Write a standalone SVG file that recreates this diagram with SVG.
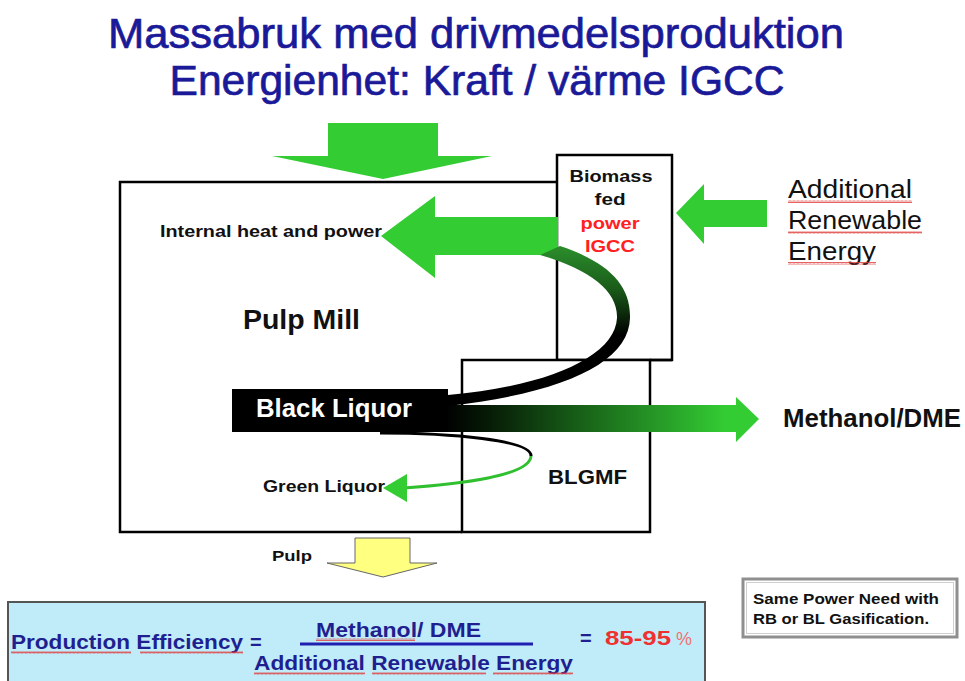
<svg xmlns="http://www.w3.org/2000/svg" width="965" height="681" viewBox="0 0 965 681">
<style>
text{font-family:"Liberation Sans",Arial,sans-serif}
.b{font-weight:bold}
.lbl{fill:#111}
.box{fill:#fff;stroke:#000;stroke-width:2.5}
.green{fill:#33cc33}
.navy{fill:#1f1f90}
.sq{fill:url(#squig)}
.ttl{fill:#1a1a99;stroke:#1a1a99;stroke-width:0.7}
</style>
<defs>
<pattern id="squig" width="4" height="3" patternUnits="userSpaceOnUse">
<path d="M0,2.5 L1,0.5 L2,2.5 L3,0.5 L4,2.5" fill="none" stroke="#e03c3c" stroke-width="0.8"/>
</pattern>
<linearGradient id="gArrow" gradientUnits="userSpaceOnUse" x1="445" y1="0" x2="725" y2="0">
<stop offset="0" stop-color="#000"/>
<stop offset="0.15" stop-color="#061a06"/>
<stop offset="1" stop-color="#33cc33"/>
</linearGradient>
<linearGradient id="gRibbon" gradientUnits="userSpaceOnUse" x1="0" y1="250" x2="0" y2="335">
<stop offset="0" stop-color="#2a8a2a"/>
<stop offset="0.45" stop-color="#1a5c1a"/>
<stop offset="1" stop-color="#000"/>
</linearGradient>
</defs>
<rect width="965" height="681" fill="#fff"/>

<g id="title">
<text x="476" y="48" text-anchor="middle" font-size="42" class="ttl" textLength="736" lengthAdjust="spacingAndGlyphs">Massabruk med drivmedelsproduktion</text>
<text x="477" y="95" text-anchor="middle" font-size="42" class="ttl" textLength="615" lengthAdjust="spacingAndGlyphs">Energienhet: Kraft / värme IGCC</text>
</g>

<g id="pulp-mill">
<path d="M557,182 H120 V532 H462" fill="none" stroke="#000" stroke-width="2.5"/>
<text x="160" y="237" class="b lbl" font-size="16" textLength="222" lengthAdjust="spacingAndGlyphs">Internal heat and power</text>
<text x="243" y="329" class="b lbl" font-size="27" textLength="117" lengthAdjust="spacingAndGlyphs">Pulp Mill</text>
<text x="263" y="492" class="b lbl" font-size="17" textLength="122" lengthAdjust="spacingAndGlyphs">Green Liquor</text>
</g>

<g id="biomass-igcc">
<rect x="557" y="155" width="115" height="205" class="box"/>
<text x="611" y="182" text-anchor="middle" class="b lbl" font-size="17" textLength="83" lengthAdjust="spacingAndGlyphs">Biomass</text>
<text x="610" y="205" text-anchor="middle" class="b lbl" font-size="17" textLength="31" lengthAdjust="spacingAndGlyphs">fed</text>
<text x="610" y="229" text-anchor="middle" class="b" font-size="17" fill="#ff2020" textLength="59" lengthAdjust="spacingAndGlyphs">power</text>
<text x="610" y="252" text-anchor="middle" class="b" font-size="17" fill="#ff2020" textLength="50" lengthAdjust="spacingAndGlyphs">IGCC</text>
</g>

<g id="blgmf">
<rect x="462" y="360" width="188" height="172" class="box"/>
<path d="M650,360 H672" stroke="#000" stroke-width="2.5"/>
<text x="548" y="484" class="b lbl" font-size="20" textLength="79" lengthAdjust="spacingAndGlyphs">BLGMF</text>
</g>

<g id="connectors">
<polygon id="feed-arrow" class="green" points="328,123 438,123 438,156 492,156 383,179 272,156 328,156"/>
<polygon id="internal-arrow" class="green" points="558,217 435,217 435,196 381,236 435,278 435,255 558,255"/>
<polygon id="renewable-arrow" class="green" points="767,200 704,200 704,184 676,213 704,244 704,227 767,227"/>
<polygon id="methanol-arrow" fill="url(#gArrow)" points="445,405 736,405 736,397 759,419 736,442 736,432 445,432"/>
<path id="ribbon" fill="url(#gRibbon)" d="M560,246 C608,262 631,285 630,318 C629,362 565,393 448,406 L448,395 C550,386 615,356 617,318 C618,292 592,270 540,255 Z"/>
<path id="green-liquor-black" d="M380,433 C450,433 532,440 531,456" fill="none" stroke="#000" stroke-width="3"/>
<path id="green-liquor-green" d="M531,456 C530,476 460,484 404,488" fill="none" stroke="#2fbf2f" stroke-width="3"/>
<polygon class="green" points="383,488 407,474 407,502"/>
<polygon id="pulp-arrow" fill="#ffff80" stroke="#666" stroke-width="1" points="355,538 410,538 410,563 437,563 383,577 327,563 355,563"/>
</g>

<g id="black-liquor">
<rect x="232" y="389" width="216" height="43" fill="#000"/>
<text x="256" y="417" class="b" font-size="25" fill="#fff" textLength="156" lengthAdjust="spacingAndGlyphs">Black Liquor</text>
</g>

<g id="labels">
<text x="788" y="198" font-size="25" class="lbl" textLength="124" lengthAdjust="spacingAndGlyphs">Additional</text>
<text x="788" y="229" font-size="25" class="lbl" textLength="134" lengthAdjust="spacingAndGlyphs">Renewable</text>
<text x="788" y="260" font-size="25" class="lbl" textLength="88" lengthAdjust="spacingAndGlyphs">Energy</text>
<rect class="sq" x="788" y="200" width="124" height="3"/>
<rect class="sq" x="788" y="231" width="134" height="3"/>
<rect class="sq" x="788" y="262" width="88" height="3"/>
<text x="783" y="427" class="b lbl" font-size="25" textLength="178" lengthAdjust="spacingAndGlyphs">Methanol/DME</text>
<text x="272" y="561" class="b lbl" font-size="15" textLength="40" lengthAdjust="spacingAndGlyphs">Pulp</text>
</g>

<g id="efficiency-box">
<rect x="8" y="602" width="697" height="100" fill="#c0ecfa" stroke="#555" stroke-width="2"/>
<text x="11" y="649" class="b navy" font-size="20" textLength="232" lengthAdjust="spacingAndGlyphs">Production Efficiency</text>
<text x="250" y="649" class="b navy" font-size="20">=</text>
<text x="316" y="637" class="b navy" font-size="20" textLength="165" lengthAdjust="spacingAndGlyphs">Methanol/ DME</text>
<line x1="300" y1="644" x2="533" y2="644" stroke="#2020b0" stroke-width="3"/>
<text x="254" y="670" class="b navy" font-size="20" textLength="319" lengthAdjust="spacingAndGlyphs">Additional Renewable Energy</text>
<text x="580" y="645" class="b navy" font-size="20">=</text>
<text x="605" y="645" class="b" font-size="20" fill="#ee3030" textLength="66" lengthAdjust="spacingAndGlyphs">85-95</text>
<text x="676" y="645" font-size="18" fill="#f07070">%</text>
<rect class="sq" x="11" y="651" width="120" height="3"/>
<rect class="sq" x="140" y="651" width="103" height="3"/>
<rect class="sq" x="316" y="638" width="99" height="3"/>
<rect class="sq" x="254" y="672" width="111" height="3"/>
<rect class="sq" x="372" y="672" width="114" height="3"/>
<rect class="sq" x="493" y="672" width="80" height="3"/>
</g>

<g id="note-box">
<rect x="743" y="579" width="214" height="58" fill="#fff" stroke="#8f8f8f" stroke-width="3"/>
<rect x="746.5" y="582.5" width="207" height="51" fill="none" stroke="#d0d0d0" stroke-width="1"/>
<text x="753" y="604" class="b lbl" font-size="15.5" textLength="186" lengthAdjust="spacingAndGlyphs">Same Power Need with</text>
<text x="753" y="624" class="b lbl" font-size="15.5" textLength="176" lengthAdjust="spacingAndGlyphs">RB or BL Gasification.</text>
</g>
</svg>
